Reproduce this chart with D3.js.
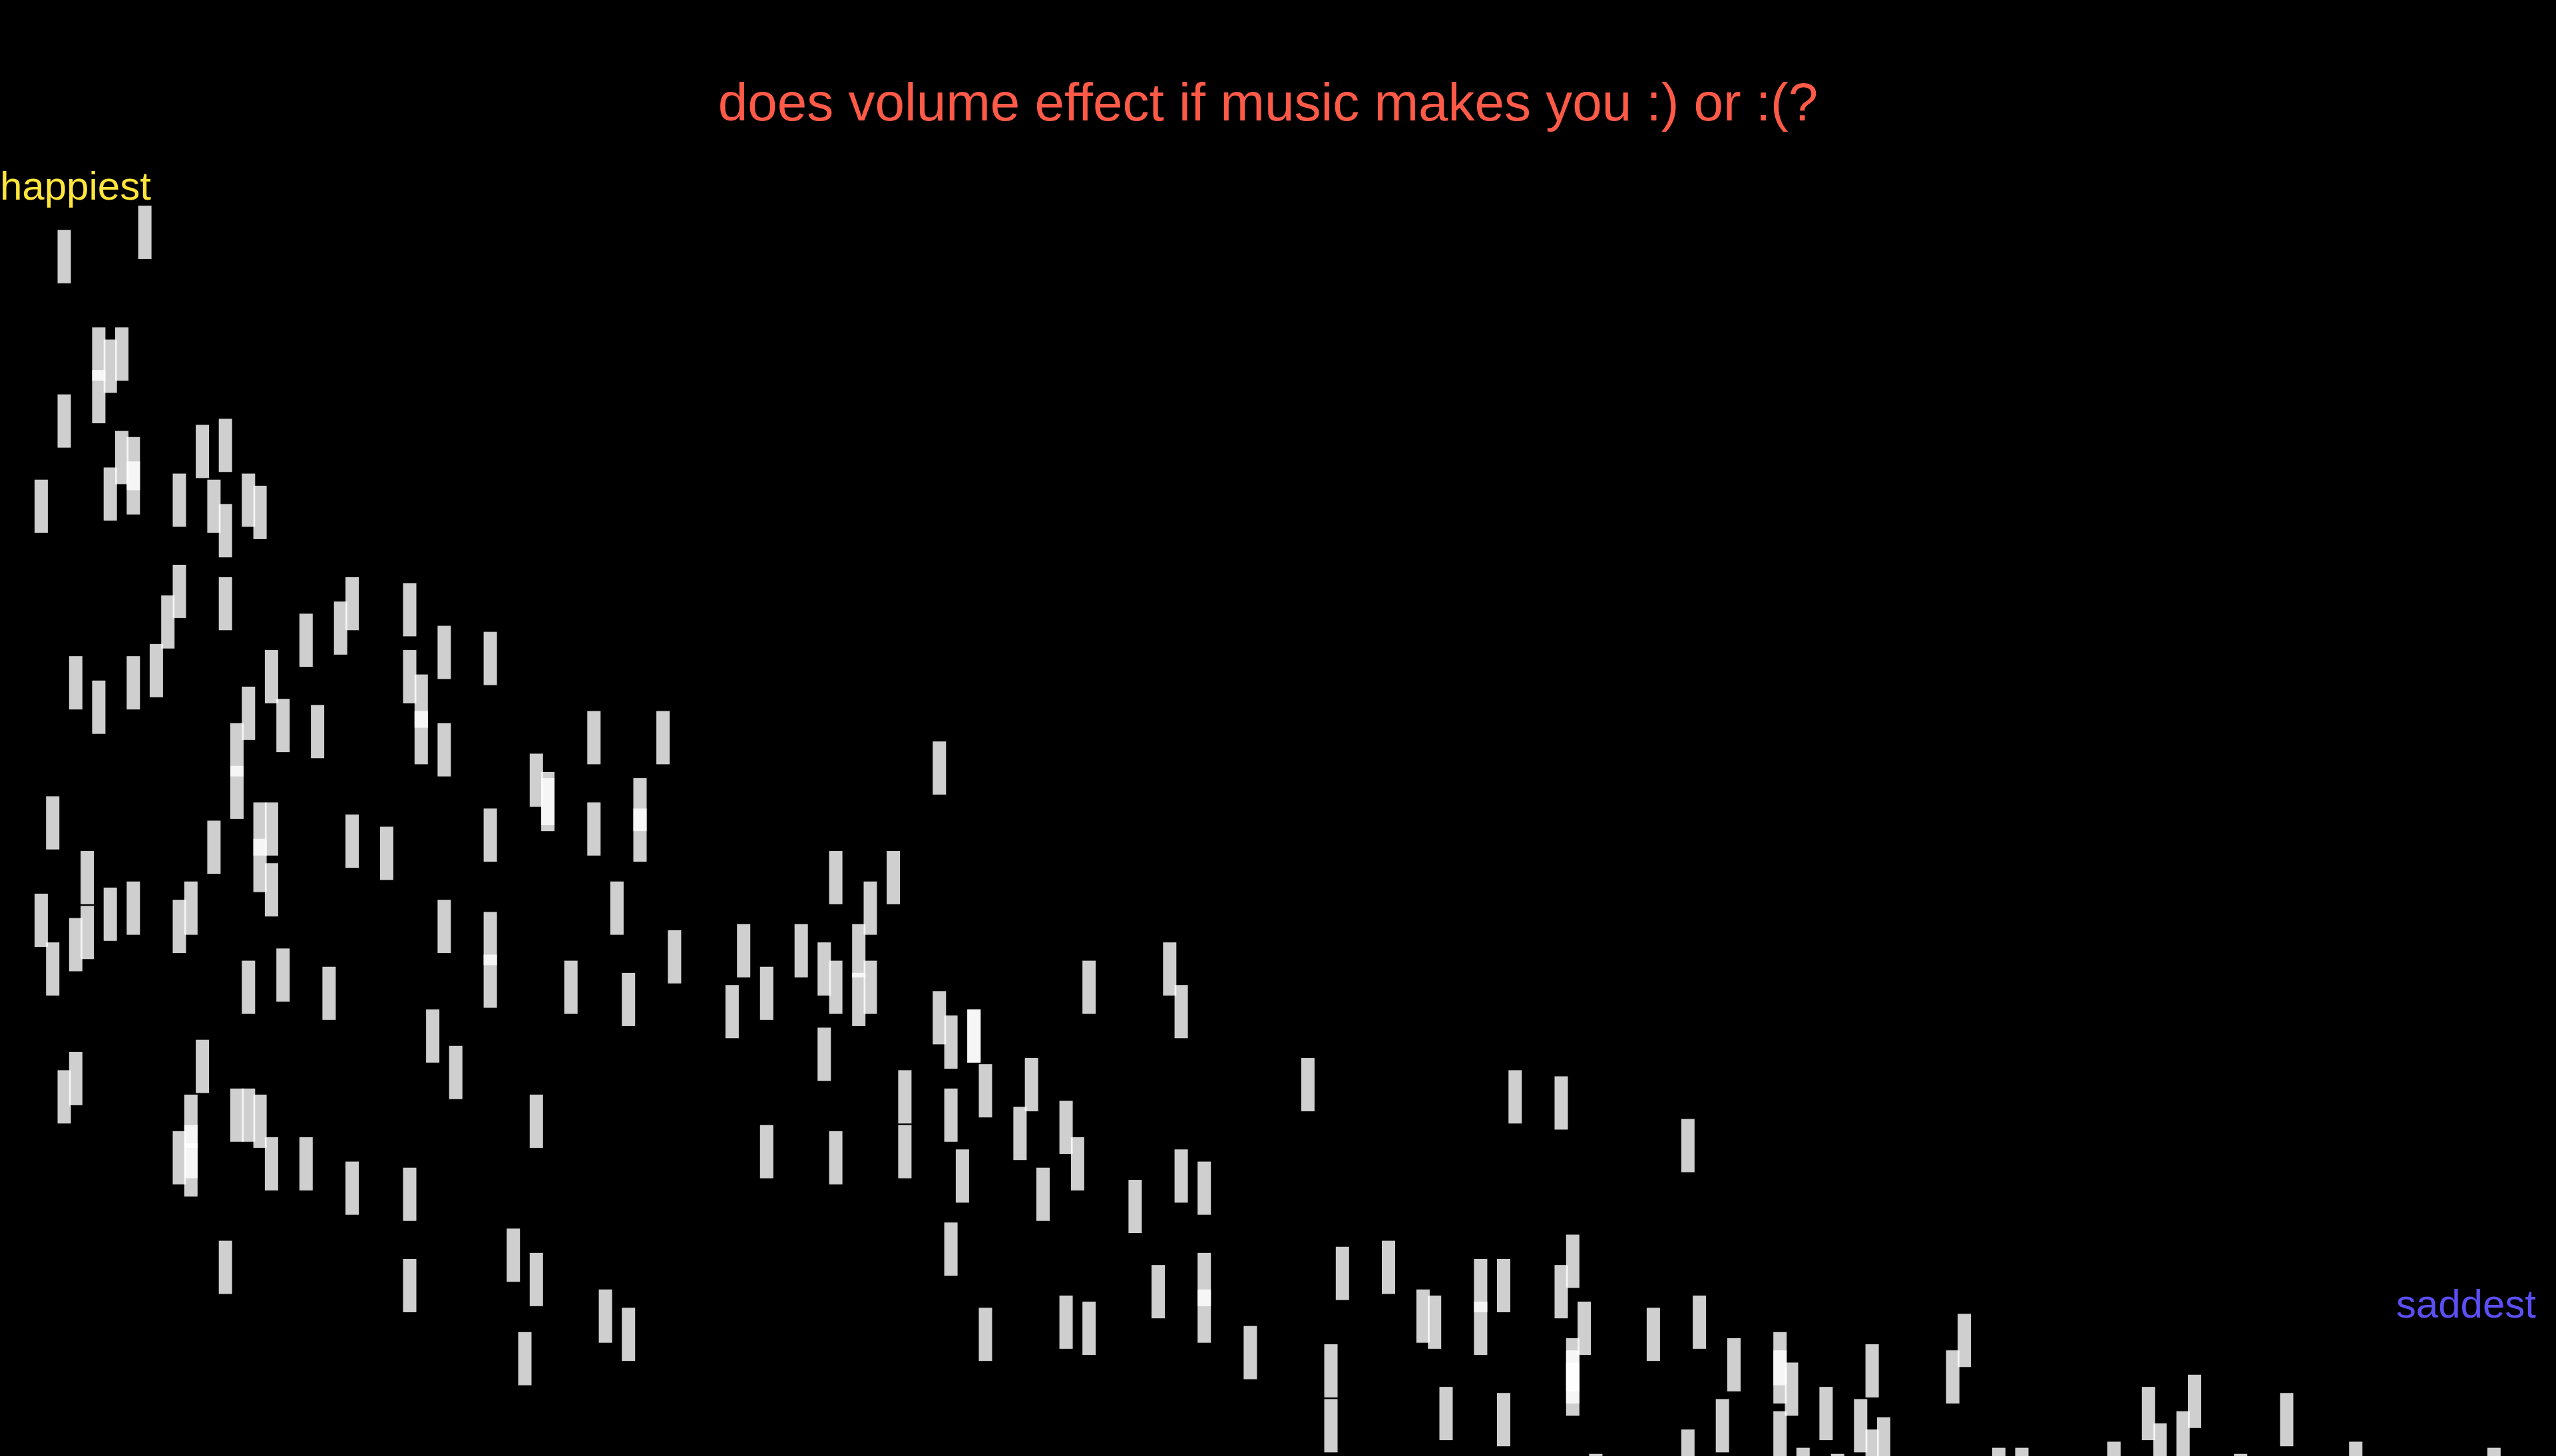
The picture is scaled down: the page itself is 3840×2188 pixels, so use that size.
<!DOCTYPE html>
<html>
<head>
<meta charset="utf-8">
<script src="https://cdn.jsdelivr.net/npm/d3@7"></script>
<style>
  html, body { margin: 0; padding: 0; background: #000; overflow: hidden; }
  svg { display: block; }
  text { font-family: "Liberation Sans", Arial, Helvetica, sans-serif; }
</style>
</head>
<body>
<script>
// --- data: one entry per song (loudness in dB, valence 0..1) ---
const loudness = [
  -0.5,-1.2,-0.8,-0.8,-0.9,-1.0,-0.5,-1.0,-1.1,-1.1,-0.9,-0.3,-1.5,-1.7,-1.9,-1.8,-1.9,-2.1,-2.2,-1.5,-1.4,-1.9,-2.6,-2.9,-3.0,-3.5,-3.8,-4.2,
  -0.6,-0.8,-1.1,-1.3,-2.1,-2.3,-2.4,-2.7,-2.0,-2.0,-3.5,-3.6,-3.6,-3.8,-5.1,-5.7,-4.6,-4.7,-4.7,-5.5,-5.5,-5.1,-4.2,-0.4,-1.8,-2.2,-2.2,-2.3,-2.3,-3.0,-3.3,-0.7,-0.7,-0.3,-0.4,-0.6,-0.9,-1.1,-1.5,-1.6,-3.8,-4.2,-4.2,-5.3,-2.1,-2.4,-2.8,-4.9,-5.4,-3.7,-0.6,-1.7,-3.9,
  -0.5,-1.6,-1.6,-1.6,-1.5,-2.0,-2.1,-2.2,-2.3,-2.6,-3.0,-3.5,-4.6,-1.9,-3.5,-4.4,-4.6,-5.2,-5.4,-4.5,
  -8.1,-7.2,-7.7,-7.5,-5.8,-6.4,-6.9,-7.1,-7.2,-7.4,-7.4,-7.5,-6.3,-6.6,-8.1,-8.2,-8.4,-8.4,-9.4,-10.1,-10.2,-7.1,-8.9,-8.5,
  -7.8,-8.2,-8.8,-9.2,-9.3,-6.6,-7.2,-7.8,-8.3,-9.0,-9.8,-10.2,-10.4,-8.2,-8.5,-9.2,-9.4,-10.0,-10.4,-10.4,-10.8,
  -11.3,-13.1,-13.5,-14.6,-11.6,-12.0,-12.3,-12.4,-12.8,-12.8,-13.0,-13.5,-13.6,-13.7,-13.6,-13.6,-13.6,-14.3,-14.7,-15.0,-15.4,-15.4,-15.4,-15.5,-16.2,-11.5,-11.5,-12.5,-13.0,-14.9,-15.8,-16.1,-16.3,-16.2,-14.6,-15.6,-13.8,-15.9,
  -16.9,-17.0,-18.6,-18.7,-18.9,-19.0,-19.8,-17.3,-17.5,-18.3,-19.4,-20.4,-21.6
];
const valence = [
  0.954,0.970,0.890,0.862,0.882,0.890,0.846,0.822,0.818,0.802,0.798,0.790,0.794,0.826,0.830,0.790,0.774,0.794,0.786,0.734,0.714,0.726,0.702,0.710,0.726,0.722,0.694,0.690,
  0.674,0.658,0.674,0.682,0.654,0.678,0.646,0.642,0.630,0.602,0.678,0.662,0.638,0.630,0.638,0.638,0.610,0.598,0.594,0.594,0.574,0.578,0.574,0.582,0.566,0.578,0.554,0.578,0.538,0.570,0.562,0.546,0.510,0.518,0.486,0.502,0.522,0.526,0.514,0.526,0.514,0.506,0.478,0.526,0.474,0.482,0.470,0.474,0.466,0.442,0.414,0.422,0.418,
  0.402,0.386,0.366,0.354,0.362,0.390,0.390,0.386,0.358,0.358,0.342,0.338,0.386,0.290,0.278,0.298,0.282,0.258,0.246,0.230,
  0.618,0.546,0.546,0.526,0.494,0.498,0.498,0.486,0.474,0.498,0.466,0.474,0.458,0.470,0.454,0.438,0.442,0.442,0.474,0.486,0.458,0.430,0.410,0.406,
  0.402,0.390,0.378,0.382,0.358,0.366,0.362,0.366,0.350,0.338,0.330,0.350,0.342,0.302,0.246,0.254,0.250,0.274,0.282,0.258,0.234,
  0.410,0.402,0.398,0.370,0.286,0.290,0.258,0.254,0.278,0.250,0.278,0.274,0.294,0.250,0.226,0.218,0.210,0.246,0.254,0.226,0.230,0.218,0.178,0.210,0.222,0.222,0.186,0.194,0.190,0.186,0.194,0.186,0.174,0.166,0.166,0.154,0.150,0.150,
  0.218,0.242,0.194,0.170,0.178,0.202,0.190,0.154,0.154,0.158,0.150,0.158,0.154
];
const titleText = "does volume effect if music makes you :) or :(?";
const topLabel = "happiest";
const bottomLabel = "saddest";

const songs = loudness.map((l, i) => ({ loudness: l, valence: valence[i] }));

const W = 3840, H = 2188;
const svg = d3.select("body").append("svg")
  .attr("width", W).attr("height", H)
  .style("background", "#000");

const x = d3.scaleLinear().domain([0, -10]).range([0, 1730]);
const y = d3.scaleLinear().domain([1, 0]).range([240.4, 2527.9]);

svg.append("g")
  .selectAll("rect")
  .data(songs)
  .join("rect")
  .attr("x", d => x(d.loudness))
  .attr("y", d => y(d.valence))
  .attr("width", 20)
  .attr("height", 80)
  .attr("fill", "#ffffff")
  .attr("fill-opacity", 0.81);

svg.append("text")
  .attr("x", 1905).attr("y", 181)
  .attr("text-anchor", "middle")
  .attr("font-size", 80)
  .attr("fill", "#ff5a48")
  .text(titleText);

svg.append("text")
  .attr("x", 0).attr("y", 300)
  .attr("font-size", 60)
  .attr("fill", "#ffe53b")
  .text(topLabel);

svg.append("text")
  .attr("x", 3810).attr("y", 1980)
  .attr("text-anchor", "end")
  .attr("font-size", 60)
  .attr("fill", "#5b4ff5")
  .text(bottomLabel);
</script>
</body>
</html>
